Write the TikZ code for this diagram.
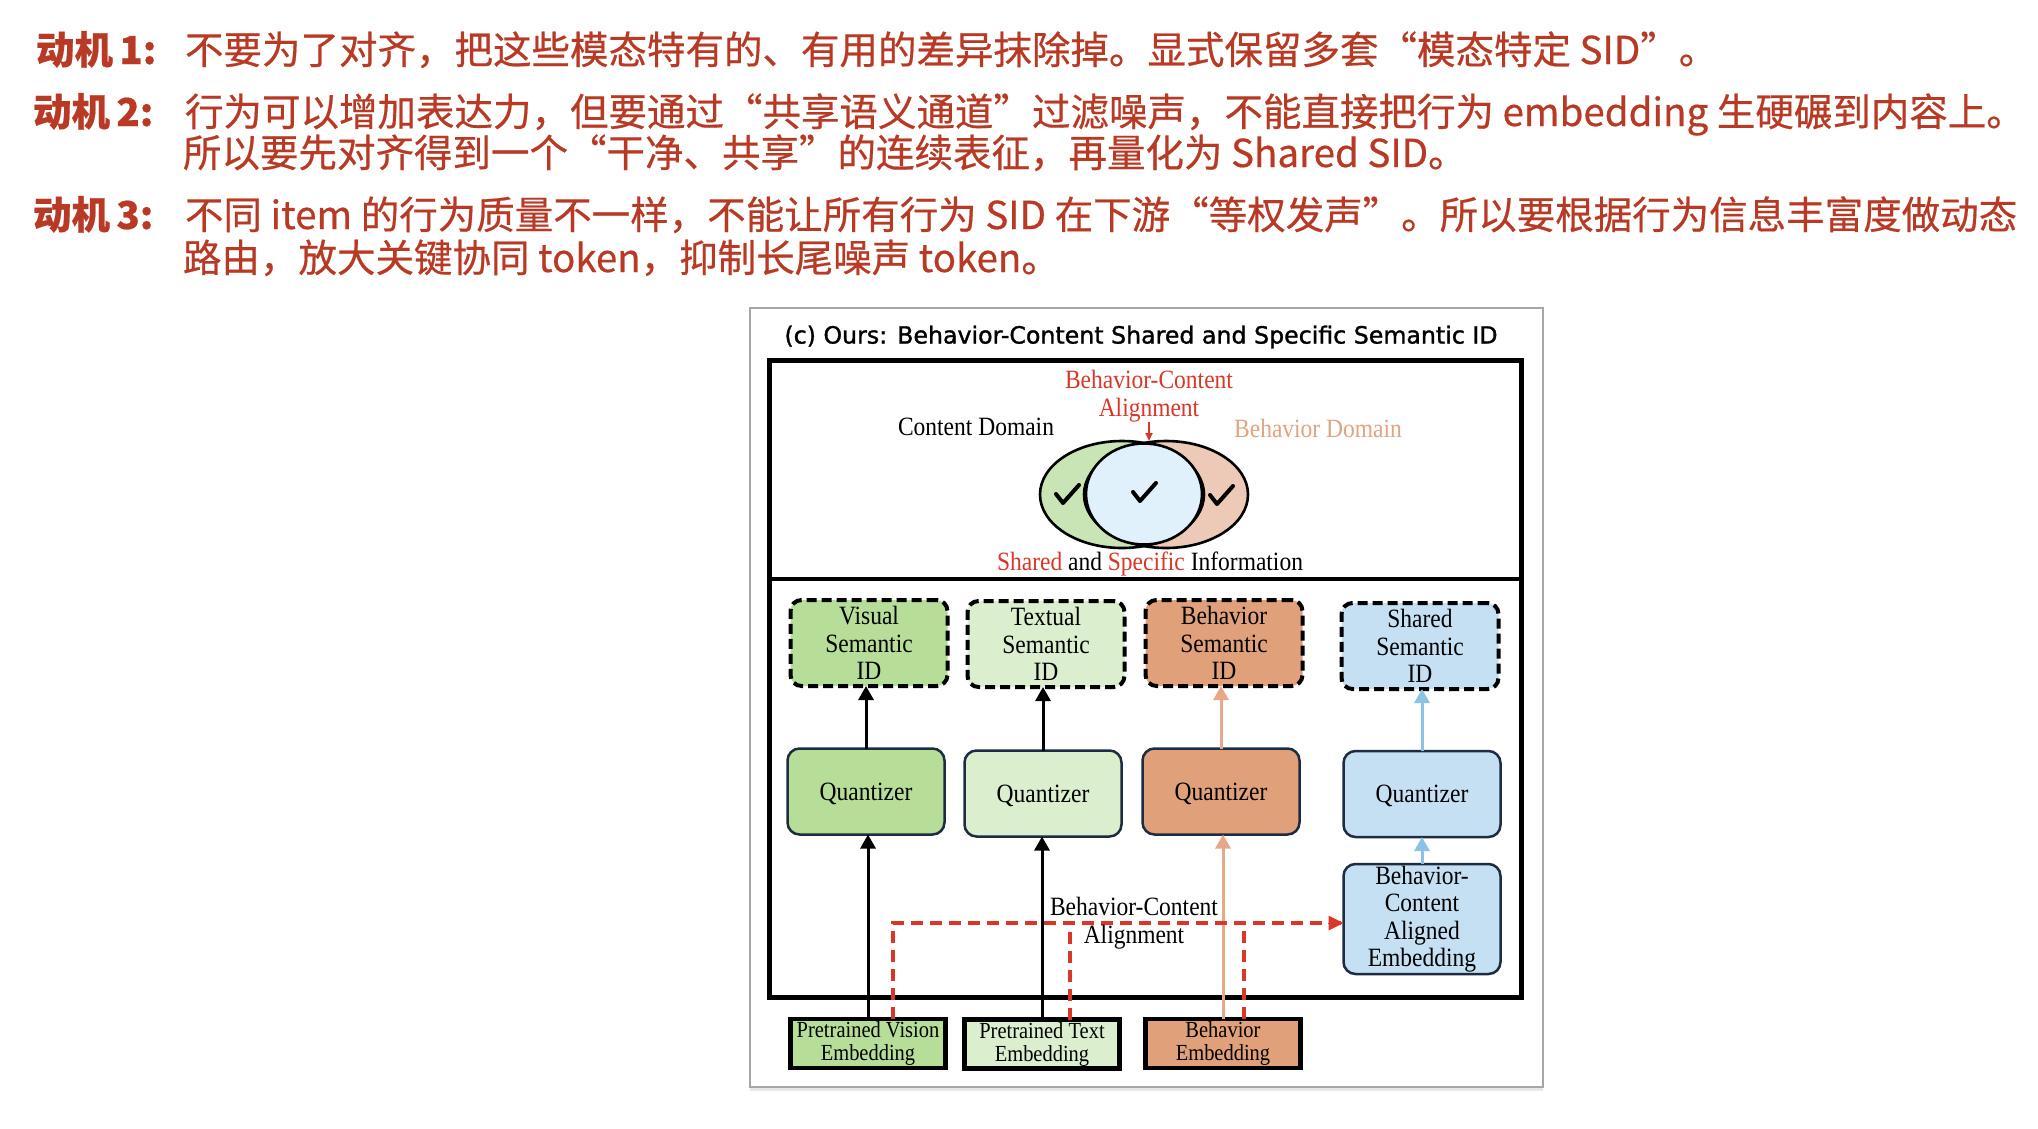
\documentclass[tikz,border=0pt]{standalone}
\usepackage{fontspec}
\usetikzlibrary{arrows.meta,shadows}
\setmainfont{Liberation Serif}
\newfontfamily\cjk[FakeBold=0.5]{Noto Sans CJK SC}
\newfontfamily\ttlf[FakeBold=1.3]{DejaVu Sans}
\newfontfamily\dgf[FakeStretch=0.89]{Liberation Serif}
\newcommand\dgfont{\dgf\fontsize{26.4}{27.5}\selectfont}
\newcommand\embfont{\dgf\fontsize{23}{23}\selectfont}
\newcommand\cjkfont{\cjk\fontsize{38.5}{44}\selectfont}
\definecolor{motred}{RGB}{184,57,36}
\definecolor{gA}{RGB}{183,222,153}
\definecolor{gB}{RGB}{219,238,206}
\definecolor{oA}{RGB}{224,161,122}
\definecolor{bA}{RGB}{197,224,243}
\definecolor{vG}{RGB}{202,229,181}
\definecolor{vO}{RGB}{237,202,183}
\definecolor{vB}{RGB}{225,241,251}
\definecolor{dred}{RGB}{218,55,40}
\definecolor{peach}{RGB}{231,168,135}
\definecolor{skyb}{RGB}{139,194,230}
\definecolor{bdom}{RGB}{226,163,128}
\definecolor{qborder}{RGB}{30,44,66}
\begin{document}
\begin{tikzpicture}[x=1pt,y=-1pt,
  every node/.style={inner sep=0pt, outer sep=0pt},
  motlab/.style={anchor=base west, text=motred, font=\cjkfont\bfseries},
  motbody/.style={anchor=base west, text=motred, font=\cjkfont},
  sid/.style={draw=black, line width=4pt, dash pattern=on 10pt off 5pt, rounded corners=11pt, minimum width=157pt, minimum height=86pt, align=center, font=\dgfont},
  quant/.style={draw=qborder, line width=2.5pt, rounded corners=12pt, minimum width=157pt, minimum height=86pt, align=center, font=\dgfont},
  emb/.style={draw=black, line width=4.5pt, minimum width=155pt, minimum height=49pt, align=center, font=\embfont},
  lbl/.style={align=center, font=\dgfont},
  arr/.style={line width=3pt, -{Triangle[length=14pt,width=15pt]}},
  blk/.style={arr, draw=black},
  pch/.style={arr, draw=peach},
  sky/.style={arr, draw=skyb},
  rdash/.style={draw=dred, line width=3.5pt, dash pattern=on 12pt off 7pt},
  chk/.style={line width=4pt, line cap=round, line join=round},
  venn/.style={draw=black, line width=2.6pt}
]
\path[use as bounding box, fill=white] (0,0) rectangle (2038,1128);

% ---------- top text ----------
\node[motlab] (l1) at (36,64) {动机\,1:};
\node[motbody] (r1) at (185,64) {不要为了对齐，把这些模态特有的、有用的差异抹除掉。显式保留多套“模态特定 SID”。};
\node[motlab] (l2) at (33,126) {动机\,2:};
\node[motbody] (r2) at (185,126) {行为可以增加表达力，但要通过“共享语义通道”过滤噪声，不能直接把行为 embedding 生硬碾到内容上。};
\node[motbody] (r2b) at (183,167) {所以要先对齐得到一个“干净、共享”的连续表征，再量化为 Shared SID。};
\node[motlab] (l3) at (33,229) {动机\,3:};
\node[motbody] (r3) at (185,229) {不同 item 的行为质量不一样，不能让所有行为 SID 在下游“等权发声”。所以要根据行为信息丰富度做动态};
\node[motbody] (r3b) at (183,272) {路由，放大关键协同 token，抑制长尾噪声 token。};

% ---------- frame ----------
\path[fill=white, draw=black!35, line width=1.2pt, drop shadow={shadow xshift=0pt, shadow yshift=-4pt, opacity=0.18}] (750,308) rectangle (1543,1087);
\node (title) at (1141,337) {\resizebox{713pt}{!}{\ttlf (c) Ours: Behavior-Content Shared and Specific Semantic ID}};
\draw[line width=5pt] (769,360) rectangle (1521,997);
\draw[line width=3.5pt] (769,579) -- (1521,579);

% ---------- venn ----------
\fill[vG] (1122,494.5) ellipse [x radius=82pt, y radius=53.5pt];
\fill[vO] (1166,494.5) ellipse [x radius=82pt, y radius=53.5pt];
\draw[venn] (1122,494.5) ellipse [x radius=82pt, y radius=53.5pt];
\draw[venn] (1166,494.5) ellipse [x radius=82pt, y radius=53.5pt];
\draw[venn, fill=vB] (1144,494) ellipse [x radius=58pt, y radius=50.5pt];
\coordinate (c1) at (1067,495);
\coordinate (c2) at (1144,493);
\coordinate (c3) at (1221,496);
\foreach \c in {c1,c2,c3}{
  \draw[chk] ([shift={(-11,-1)}]\c) -- ([shift={(-4,8)}]\c) -- ([shift={(12,-10)}]\c);
}
\node[lbl, anchor=south, text=dred] (bca) at (1149,422) {Behavior-Content\\Alignment};
\coordinate (vtop) at (1149,441);
\draw[draw=dred, line width=2pt, -{Triangle[length=8pt,width=7pt]}] (bca.south) -- (vtop);
\node[lbl] (cdom) at (976,427) {Content Domain};
\node[lbl, text=bdom] (bdomain) at (1318,428) {Behavior Domain};
\node[lbl] (ssi) at (1150,564) {\textcolor{dred}{Shared} and \textcolor{dred}{Specific} Information};

% ---------- lower panel ----------
\node[sid, fill=gA] (vsid) at (869,643) {Visual\\Semantic\\ID};
\node[sid, fill=gB] (tsid) at (1046,644) {Textual\\Semantic\\ID};
\node[sid, fill=oA] (bsid) at (1224,643) {Behavior\\Semantic\\ID};
\node[sid, fill=bA] (ssid) at (1420,646) {Shared\\Semantic\\ID};

\node[quant, fill=gA, text depth=0pt] (q1) at (866,791.5) {Quantizer};
\node[quant, fill=gB, text depth=0pt] (q2) at (1043,793.5) {Quantizer};
\node[quant, fill=oA, text depth=0pt] (q3) at (1221,791.5) {Quantizer};
\node[quant, fill=bA, text depth=0pt] (q4) at (1422,794) {Quantizer};

\node[quant, fill=bA, minimum height=110pt] (al) at (1422,919) {Behavior-\\Content\\Aligned\\Embedding};

\node[emb, fill=gA] (vemb) at (868,1043.5) {Pretrained Vision\\Embedding};
\node[emb, fill=gB] (temb) at (1042,1044) {Pretrained Text\\Embedding};
\node[emb, fill=oA] (bemb) at (1223,1043.5) {Behavior\\Embedding};

% arrows quantizer -> SID
\draw[blk] (q1.north) -- (q1.north |- vsid.south);
\draw[blk] (q2.north) -- (q2.north |- tsid.south);
\draw[pch] (q3.north) -- (q3.north |- bsid.south);
\draw[sky] (q4.north) -- (q4.north |- ssid.south);

% arrows embeddings -> quantizer
\draw[blk] (vemb.north) -- (vemb.north |- q1.south);
\draw[blk] (temb.north) -- (temb.north |- q2.south);
\draw[pch] (bemb.north) -- (bemb.north |- q3.south);
\draw[sky] (al.north) -- (al.north |- q4.south);

% alignment dashed
\coordinate (rv) at (893,923);
\coordinate (rt) at (1070,923);
\coordinate (rb) at (1244,923);
\draw[rdash] (vemb.north -| rv) -- (rv) -- (rv -| al.west);
\draw[rdash] (temb.north -| rt) -- (rt);
\draw[rdash] (bemb.north -| rb) -- (rb);
\draw[draw=dred, fill=dred, line width=0pt, -{Triangle[length=15pt,width=15pt]}] ([xshift=-2pt]rv -| al.west) -- (rv -| al.west);
\node[lbl] (bcal) at (1134,923) {Behavior-Content\\Alignment};
\end{tikzpicture}
\end{document}
